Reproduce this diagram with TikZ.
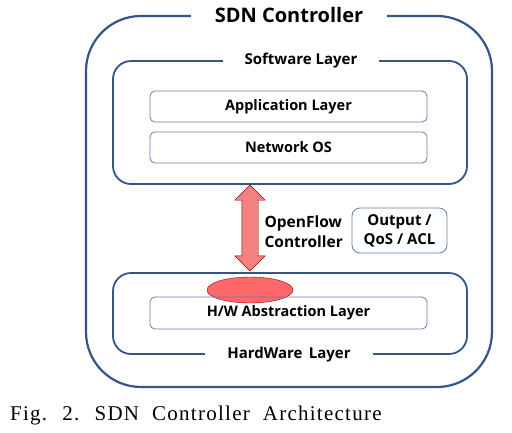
\documentclass[tikz,border=0pt]{standalone}
\usepackage{fontspec}
\setmainfont{Liberation Serif}
\newfontfamily\gothic{Open Sans}
\usetikzlibrary{shapes.arrows,shapes.geometric}

\definecolor{frame}{RGB}{52,84,138}
\definecolor{boxline}{RGB}{95,125,170}
\definecolor{arrowred}{RGB}{245,128,128}
\definecolor{ovalred}{RGB}{255,105,105}

\begin{document}
\begin{tikzpicture}[x=1pt, y=-1pt,
	layer/.style={draw=frame, line width=1.8pt, rounded corners=18pt, inner sep=0pt},
	box/.style={draw=boxline, line width=0.8pt, rounded corners=5pt, minimum width=277pt, minimum height=31pt, font=\gothic\bfseries\fontsize{14.5}{17}\selectfont},
	title/.style={fill=white, inner xsep=22pt, font=\gothic\bfseries\fontsize{15}{18}\selectfont},
	label/.style={font=\gothic\bfseries\fontsize{15.5}{20}\selectfont},
]
\useasboundingbox (0,0) rectangle (512,432);

% Create the layers
\node[layer, line width=2.2pt, rounded corners=55pt, minimum width=406pt, minimum height=371pt] (sdn) at (289,201.5) {};
\node[layer, minimum width=354pt, minimum height=123pt] (software) at (290,122.5) {};
\node[layer, minimum width=354pt, minimum height=81pt] (hardware) at (290,313.5) {};

% Titles on the borders
\node[title, inner xsep=24pt, font=\gothic\bfseries\fontsize{20}{22}\selectfont] (sdntitle) at (sdn.north) {SDN Controller};
\node[title] (swtitle) at ([xshift=11pt]software.north) {Software Layer};
\node[title] (hwtitle) at ([xshift=-1pt]hardware.south) {HardWare\, Layer};

% Inner boxes
\node[box] (app) at (288.5,106.5) {Application Layer};
\node[box] (netos) at (288.5,147.5) {Network OS};
\node[ellipse, draw=red!60!black, fill=ovalred, minimum width=86pt, minimum height=26pt] (oval) at (250,290) {};
\node[box, minimum height=32pt] (hwal) at (288.5,313) {H/W Abstraction Layer};

% OpenFlow link
\node[double arrow, draw=red!55!black, fill=arrowred, rotate=90, minimum height=86pt, minimum width=30pt, double arrow head extend=7pt, inner xsep=0pt, inner ysep=8pt] (link) at (250,228) {};
\node[label, align=left, anchor=west] (ofc) at (261,232) {OpenFlow\\Controller};
\node[box, rounded corners=8pt, minimum width=95pt, minimum height=45pt, align=center, font=\gothic\bfseries\fontsize{15}{19}\selectfont] (qos) at (399.5,230.5) {Output /\\QoS / ACL};

% Caption
\node[anchor=base west, inner sep=0pt, font=\fontsize{21}{24}\selectfont\addfontfeature{LetterSpace=6}] (caption) at (10,420) {Fig.~ 2.~ SDN~ Controller~ Architecture};

\end{tikzpicture}
\end{document}
